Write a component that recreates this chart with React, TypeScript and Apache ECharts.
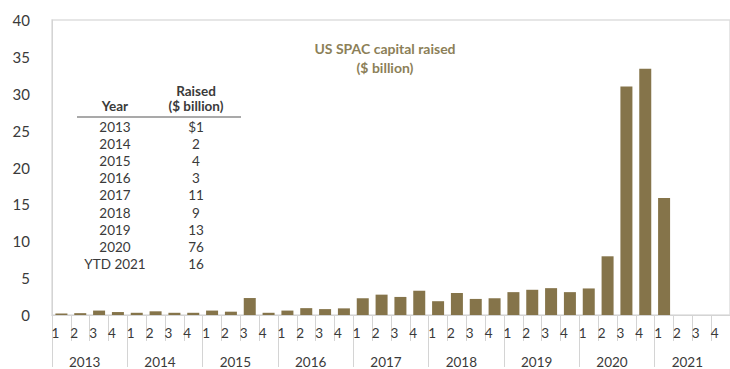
import React, { useEffect, useRef } from "react";
import * as echarts from "echarts";

const quarterLabels = [
  "1","2","3","4","1","2","3","4","1","2","3","4","1","2","3","4","1","2","3","4",
  "1","2","3","4","1","2","3","4","1","2","3","4","1","2","3","4",
];
const yearLabels = ["2013","2014","2015","2016","2017","2018","2019","2020","2021"];
const raisedValues = [
  0.2, 0.25, 0.6, 0.4,
  0.3, 0.5, 0.3, 0.3,
  0.6, 0.45, 2.3, 0.3,
  0.6, 0.93, 0.8, 0.9,
  2.27, 2.76, 2.45, 3.29,
  1.87, 2.98, 2.18, 2.27,
  3.1, 3.42, 3.64, 3.1,
  3.6, 7.96, 30.98, 33.4,
  15.87, null, null, null,
];
const tableYears = ["2013","2014","2015","2016","2017","2018","2019","2020","YTD 2021"];
const tableRaised = ["$1","2","4","3","11","9","13","76","16"];
const yTicks = [0, 5, 10, 15, 20, 25, 30, 35, 40];

const FONT = "Lato, 'Noto Sans', sans-serif";
const BAR = "#85744a";
const NOTE = "#8c7f58";
const TXT = "#3a3a3a";
const LINE = "#d4d4d4";

export default function App() {
  const ref = useRef<HTMLDivElement>(null);
  useEffect(() => {
    if (!ref.current) return;
    const chart = echarts.init(ref.current, null, { renderer: "svg" });
    const rowTop = 127;
    const rowGap = 17.1;
    const graphics: any[] = [
      {
        type: "text",
        style: {
          text: "US SPAC capital raised",
          x: 385,
          y: 48,
          align: "center",
          verticalAlign: "middle",
          font: "bold 14px " + FONT,
          fill: NOTE,
        },
      },
      {
        type: "text",
        style: {
          text: "($ billion)",
          x: 385,
          y: 67,
          align: "center",
          verticalAlign: "middle",
          font: "bold 14px " + FONT,
          fill: NOTE,
        },
      },
      {
        type: "text",
        style: { text: "Year", x: 115, y: 106, align: "center", verticalAlign: "middle", font: "bold 13.5px " + FONT, fill: TXT },
      },
      {
        type: "text",
        style: { text: "Raised", x: 196, y: 91, align: "center", verticalAlign: "middle", font: "bold 13.5px " + FONT, fill: TXT },
      },
      {
        type: "text",
        style: { text: "($ billion)", x: 196, y: 106, align: "center", verticalAlign: "middle", font: "bold 13.5px " + FONT, fill: TXT },
      },
      {
        type: "line",
        shape: { x1: 77, y1: 117, x2: 241, y2: 117 },
        style: { stroke: "#555", lineWidth: 1.2 },
      },
    ];
    tableYears.forEach((y, i) => {
      graphics.push({
        type: "text",
        style: { text: y, x: 115, y: rowTop + i * rowGap, align: "center", verticalAlign: "middle", font: "13.5px " + FONT, fill: TXT },
      });
      graphics.push({
        type: "text",
        style: { text: tableRaised[i], x: 196, y: rowTop + i * rowGap, align: "center", verticalAlign: "middle", font: "13.5px " + FONT, fill: TXT },
      });
    });

    chart.setOption({
      animation: false,
      textStyle: { fontFamily: FONT },
      grid: {
        left: 52,
        right: 0,
        top: 20,
        bottom: 50,
        show: true,
        borderColor: "#dedede",
        borderWidth: 1.5,
      },
      xAxis: [
        {
          type: "category",
          data: quarterLabels,
          position: "bottom",
          offset: 0,
          axisLine: { show: true, lineStyle: { color: LINE, width: 1 } },
          axisTick: { show: true, interval: 0, length: 26, lineStyle: { color: LINE } },
          axisLabel: {
            interval: 0,
            fontSize: 13.5,
            color: TXT,
            margin: 11,
            padding: [0, 12, 0, 0],
            fontFamily: FONT,
          },
        },
        {
          type: "category",
          data: yearLabels,
          position: "bottom",
          offset: 0,
          axisLine: { show: false },
          axisTick: { show: true, interval: 0, length: 52, lineStyle: { color: LINE } },
          axisLabel: {
            interval: 0,
            fontSize: 13.5,
            color: TXT,
            margin: 40,
            padding: [0, 10, 0, 0],
            fontFamily: FONT,
          },
        },
      ],
      yAxis: {
        type: "value",
        min: yTicks[0],
        max: yTicks[yTicks.length - 1],
        interval: 5,
        axisLine: { show: true, lineStyle: { color: LINE } },
        axisTick: { show: false },
        splitLine: { show: false },
        axisLabel: { fontSize: 15, color: TXT, margin: 22, fontFamily: FONT },
      },
      series: [
        {
          type: "bar",
          xAxisIndex: 0,
          data: raisedValues,
          barWidth: 12,
          itemStyle: { color: BAR },
        },
      ],
      graphic: graphics,
    });
    return () => chart.dispose();
  }, []);
  return (
    <div
      ref={ref}
      style={{ position: "fixed", left: 0, top: 0, width: 730, height: 369, background: "#fff" }}
    />
  );
}
